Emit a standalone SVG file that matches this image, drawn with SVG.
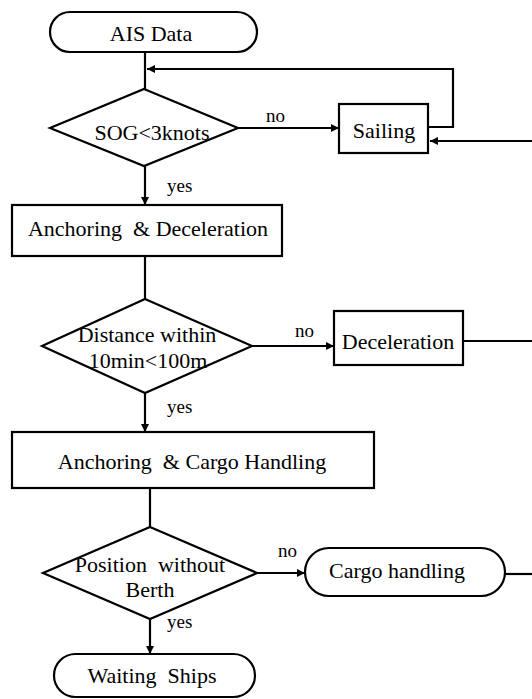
<svg xmlns="http://www.w3.org/2000/svg" width="532" height="699" viewBox="0 0 532 699" font-family="'Liberation Serif', 'Times New Roman', Tinos, 'DejaVu Serif', serif">
<style>
.s{fill:#fff;stroke:#000;stroke-width:2.2}
.c{fill:none;stroke:#000;stroke-width:2.2}
text{font-family:'Liberation Serif','Times New Roman',Tinos,'DejaVu Serif',serif;fill:#000}
.t{font-size:22px;text-anchor:middle}
.l{font-size:19px}
</style>
<defs>
<marker id="a" viewBox="0 0 10 10" refX="10" refY="5" markerWidth="9" markerHeight="8" markerUnits="userSpaceOnUse" orient="auto">
<path d="M0,0L10,5L0,10z" fill="#000"/>
</marker>
</defs>
<g id="connectors">
<path class="c" d="M145,52V89"/>
<path class="c" d="M428,127H453V69H147" marker-end="url(#a)"/>
<path class="c" d="M238,128H339" marker-end="url(#a)"/>
<path class="c" d="M532,141H430" marker-end="url(#a)"/>
<path class="c" d="M145,166V205" marker-end="url(#a)"/>
<path class="c" d="M145,256V299"/>
<path class="c" d="M252,346H334" marker-end="url(#a)"/>
<path class="c" d="M463,341H532"/>
<path class="c" d="M145,393V432" marker-end="url(#a)"/>
<path class="c" d="M150,488V527"/>
<path class="c" d="M257,573H305" marker-end="url(#a)"/>
<path class="c" d="M505,574H532"/>
<path class="c" d="M150,619V654" marker-end="url(#a)"/>
<text class="l" x="266" y="122">no</text>
<text class="l" x="167" y="192">yes</text>
<text class="l" x="295" y="337">no</text>
<text class="l" x="167" y="413">yes</text>
<text class="l" x="278" y="557">no</text>
<text class="l" x="167" y="628">yes</text>
</g>
<g id="ais">
<rect class="s" x="50" y="12" width="207" height="40" rx="20"/>
<text class="t" x="151" y="41">AIS Data</text>
</g>
<g id="sog">
<path class="s" d="M144,89L238,128L144,166L50,128Z"/>
<text class="t" x="152" y="140">SOG&lt;3knots</text>
</g>
<g id="sailing">
<rect class="s" x="339" y="104" width="89" height="49"/>
<text class="t" x="384" y="138">Sailing</text>
</g>
<g id="anchdec">
<rect class="s" x="12" y="205" width="270" height="51"/>
<text class="t" x="148" y="236" xml:space="preserve">Anchoring  &amp; Deceleration</text>
</g>
<g id="distance">
<path class="s" d="M145,299L252,346L145,393L42,346Z"/>
<text class="t" x="147" y="342">Distance within</text>
<text class="t" x="148" y="368">10min&lt;100m</text>
</g>
<g id="decel">
<rect class="s" x="334" y="311" width="129" height="54"/>
<text class="t" x="398" y="349">Deceleration</text>
</g>
<g id="anchcargo">
<rect class="s" x="12" y="432" width="362" height="56"/>
<text class="t" x="192" y="469" xml:space="preserve">Anchoring  &amp; Cargo Handling</text>
</g>
<g id="position">
<path class="s" d="M150,527L257,573L150,619L43,573Z"/>
<text class="t" x="150" y="572" xml:space="preserve">Position  without</text>
<text class="t" x="150" y="597">Berth</text>
</g>
<g id="cargo">
<rect class="s" x="305" y="548" width="200" height="48" rx="24"/>
<text class="t" x="397" y="578">Cargo handling</text>
</g>
<g id="waiting">
<rect class="s" x="54" y="654" width="201" height="43" rx="21.5"/>
<text class="t" x="152" y="683" xml:space="preserve">Waiting  Ships</text>
</g>
</svg>
